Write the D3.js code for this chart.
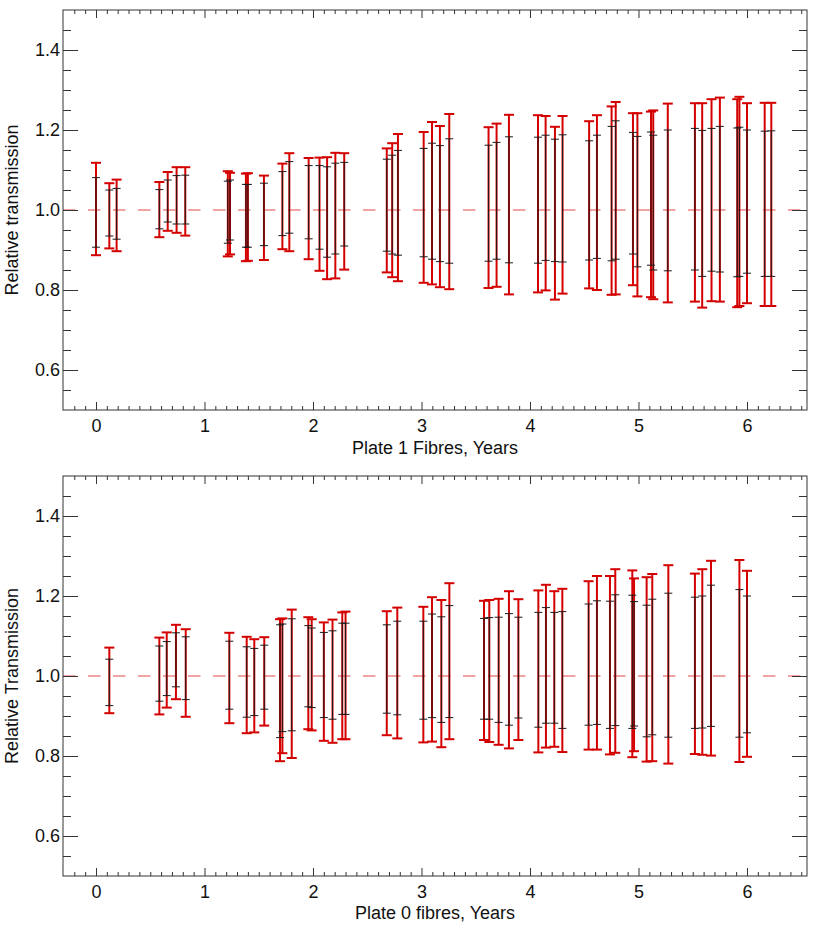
<!DOCTYPE html>
<html>
<head>
<meta charset="utf-8">
<script src="https://cdn.jsdelivr.net/npm/d3@7"></script>
<style>
  html, body { margin: 0; padding: 0; background: #fff; }
  svg { display: block; }
  text { font-family: "Liberation Sans", Arial, Helvetica, sans-serif; fill: #111; }
</style>
</head>
<body>
<svg id="chart" width="817" height="944"></svg>
<script>
// ---------- Data: Plate 1 fibres (top panel) ----------
const p1Years = [0.00, 0.123, 0.19, 0.584, 0.661, 0.743, 0.823, 1.215, 1.235, 1.382, 1.40, 1.548, 1.718, 1.782,
  1.96, 2.06, 2.13, 2.206, 2.288, 2.68, 2.73, 2.783, 3.02, 3.097, 3.17, 3.256, 3.618, 3.692, 3.806,
  4.074, 4.144, 4.23, 4.30, 4.545, 4.617, 4.752, 4.79, 4.949, 4.99, 5.115, 5.136, 5.27, 5.52, 5.587,
  5.673, 5.75, 5.91, 5.93, 6.00, 6.163, 6.224];
const p1Hi = [1.118, 1.067, 1.076, 1.070, 1.095, 1.107, 1.107, 1.097, 1.093, 1.091, 1.092, 1.086, 1.116, 1.142,
  1.130, 1.131, 1.132, 1.143, 1.142, 1.154, 1.167, 1.190, 1.195, 1.220, 1.210, 1.240, 1.207, 1.216, 1.238,
  1.237, 1.235, 1.208, 1.235, 1.222, 1.237, 1.259, 1.270, 1.242, 1.242, 1.246, 1.249, 1.266, 1.267, 1.267,
  1.277, 1.281, 1.277, 1.283, 1.267, 1.268, 1.268];
const p1Lo = [0.887, 0.904, 0.897, 0.932, 0.948, 0.943, 0.936, 0.884, 0.889, 0.872, 0.873, 0.875, 0.902, 0.897,
  0.877, 0.848, 0.827, 0.829, 0.851, 0.844, 0.832, 0.822, 0.818, 0.814, 0.807, 0.802, 0.805, 0.808, 0.789,
  0.794, 0.799, 0.776, 0.791, 0.804, 0.800, 0.788, 0.789, 0.812, 0.784, 0.782, 0.777, 0.769, 0.771, 0.756,
  0.772, 0.771, 0.757, 0.760, 0.767, 0.760, 0.760];
const p1InHi = [1.081, 1.050, 1.054, 1.051, 1.075, 1.086, 1.087, 1.072, 1.075, 1.064, 1.064, 1.067, 1.096, 1.121,
  1.111, 1.111, 1.108, 1.117, 1.119, 1.127, 1.137, 1.149, 1.154, 1.167, 1.161, 1.178, 1.162, 1.169, 1.183,
  1.182, 1.187, 1.177, 1.188, 1.173, 1.187, 1.209, 1.223, 1.194, 1.184, 1.195, 1.187, 1.200, 1.204, 1.199,
  1.204, 1.209, 1.205, 1.207, 1.200, 1.197, 1.198];
const p1InLo = [0.907, 0.935, 0.927, 0.953, 0.970, 0.965, 0.965, 0.917, 0.925, 0.907, 0.907, 0.911, 0.936, 0.942,
  0.928, 0.902, 0.882, 0.890, 0.910, 0.897, 0.890, 0.887, 0.883, 0.877, 0.871, 0.867, 0.872, 0.877, 0.868,
  0.867, 0.874, 0.871, 0.870, 0.875, 0.879, 0.873, 0.877, 0.890, 0.858, 0.862, 0.850, 0.848, 0.850, 0.834,
  0.847, 0.845, 0.833, 0.834, 0.842, 0.834, 0.834];

// ---------- Data: Plate 0 fibres (bottom panel) ----------
const p0Years = [0.123, 0.584, 0.652, 0.737, 0.827, 1.229, 1.389, 1.459, 1.551, 1.696, 1.718, 1.804, 1.957, 1.988,
  2.10, 2.18, 2.27, 2.30, 2.68, 2.777, 3.017, 3.097, 3.183, 3.257, 3.576, 3.625, 3.711, 3.806, 3.893,
  4.077, 4.147, 4.224, 4.298, 4.54, 4.617, 4.737, 4.786, 4.943, 4.959, 5.075, 5.127, 5.275, 5.52, 5.588,
  5.668, 5.93, 6.00];
const p0Hi = [1.071, 1.096, 1.109, 1.128, 1.117, 1.108, 1.098, 1.092, 1.097, 1.142, 1.144, 1.166, 1.147, 1.142,
  1.134, 1.141, 1.159, 1.161, 1.162, 1.171, 1.173, 1.197, 1.190, 1.232, 1.188, 1.190, 1.193, 1.212, 1.192,
  1.214, 1.228, 1.212, 1.218, 1.237, 1.250, 1.250, 1.267, 1.264, 1.244, 1.247, 1.255, 1.277, 1.256, 1.267,
  1.288, 1.290, 1.263];
const p0Lo = [0.907, 0.904, 0.921, 0.942, 0.898, 0.882, 0.857, 0.859, 0.876, 0.787, 0.807, 0.795, 0.867, 0.864,
  0.838, 0.833, 0.842, 0.842, 0.852, 0.844, 0.834, 0.836, 0.822, 0.842, 0.840, 0.835, 0.828, 0.819, 0.840,
  0.809, 0.821, 0.823, 0.810, 0.816, 0.816, 0.804, 0.808, 0.797, 0.812, 0.786, 0.787, 0.781, 0.805, 0.803,
  0.801, 0.785, 0.798];
const p0InHi = [1.042, 1.075, 1.086, 1.108, 1.098, 1.087, 1.073, 1.069, 1.077, 1.128, 1.130, 1.143, 1.126, 1.120,
  1.109, 1.113, 1.132, 1.132, 1.128, 1.137, 1.137, 1.155, 1.148, 1.176, 1.144, 1.146, 1.147, 1.156, 1.147,
  1.159, 1.171, 1.159, 1.161, 1.180, 1.188, 1.187, 1.203, 1.202, 1.186, 1.177, 1.192, 1.207, 1.197, 1.200,
  1.227, 1.216, 1.200];
const p0InLo = [0.926, 0.937, 0.951, 0.973, 0.941, 0.917, 0.897, 0.901, 0.917, 0.846, 0.861, 0.863, 0.923, 0.921,
  0.896, 0.892, 0.904, 0.904, 0.907, 0.903, 0.892, 0.896, 0.884, 0.896, 0.892, 0.892, 0.884, 0.877, 0.895,
  0.872, 0.882, 0.882, 0.869, 0.877, 0.879, 0.869, 0.876, 0.869, 0.875, 0.848, 0.853, 0.847, 0.869, 0.870,
  0.874, 0.847, 0.858];

// ---------- Axis tick definitions ----------
const xMajorTicks = [0, 1, 2, 3, 4, 5, 6];
const yMajorTicks = [0.6, 0.8, 1.0, 1.2, 1.4];
const xDomain = [-0.304, 6.553];
const yDomain = [0.5, 1.5];

const svg = d3.select("#chart");
const X0 = 63, X1 = 807;
const RED = "#d40000", BLACK = "#1a1a1a", AXIS = "#333";

const x = d3.scaleLinear().domain(xDomain).range([X0, X1]);
const xMinor = d3.range(-2, 66).map(d => d / 10).filter(v => v > xDomain[0] && v < xDomain[1] && Math.abs(v - Math.round(v)) > 1e-6);
const yMinor = d3.range(11, 30).map(d => d / 20).filter(v => !yMajorTicks.some(m => Math.abs(m - v) < 1e-6));

function panel(top, bottom, years, hi, lo, inHi, inLo, xTitle, yTitle, xTitleY) {
  const y = d3.scaleLinear().domain(yDomain).range([bottom, top]);
  const g = svg.append("g");

  // reference dashed line at 1.0
  g.append("line")
    .attr("x1", X0).attr("x2", X1)
    .attr("y1", y(1.0)).attr("y2", y(1.0))
    .attr("stroke", "#dd2a2a").attr("stroke-width", 1)
    .attr("stroke-dasharray", "12.5 12.5").attr("opacity", 0.85);

  const idx = d3.range(years.length);
  // red outer error bars
  const red = g.append("g").attr("stroke", RED).attr("stroke-width", 2).attr("fill", "none");
  red.selectAll("line.v").data(idx).join("line").attr("class", "v")
    .attr("x1", i => x(years[i])).attr("x2", i => x(years[i]))
    .attr("y1", i => y(hi[i])).attr("y2", i => y(lo[i]));
  red.selectAll("line.ch").data(idx).join("line").attr("class", "ch")
    .attr("x1", i => x(years[i]) - 5).attr("x2", i => x(years[i]) + 5)
    .attr("y1", i => y(hi[i])).attr("y2", i => y(hi[i]));
  red.selectAll("line.cl").data(idx).join("line").attr("class", "cl")
    .attr("x1", i => x(years[i]) - 5).attr("x2", i => x(years[i]) + 5)
    .attr("y1", i => y(lo[i])).attr("y2", i => y(lo[i]));

  // black inner error bars
  const blk = g.append("g").attr("stroke", BLACK).attr("stroke-width", 1).attr("fill", "none");
  blk.selectAll("line.v").data(idx).join("line").attr("class", "v")
    .attr("x1", i => x(years[i])).attr("x2", i => x(years[i]))
    .attr("y1", i => y(inHi[i])).attr("y2", i => y(inLo[i]));
  blk.selectAll("line.ch").data(idx).join("line").attr("class", "ch")
    .attr("x1", i => x(years[i]) - 4).attr("x2", i => x(years[i]) + 4)
    .attr("y1", i => y(inHi[i])).attr("y2", i => y(inHi[i]));
  blk.selectAll("line.cl").data(idx).join("line").attr("class", "cl")
    .attr("x1", i => x(years[i]) - 4).attr("x2", i => x(years[i]) + 4)
    .attr("y1", i => y(inLo[i])).attr("y2", i => y(inLo[i]));

  // axes ticks
  function ticks(axis, transform) {
    const a = g.append("g").attr("transform", transform).call(axis);
    a.select(".domain").remove();
    a.selectAll("text").remove();
    a.selectAll("line").attr("stroke", AXIS);
  }
  ticks(d3.axisBottom(x).tickValues(xMajorTicks).tickSize(-8), `translate(0,${bottom})`);
  ticks(d3.axisBottom(x).tickValues(xMinor).tickSize(-4), `translate(0,${bottom})`);
  ticks(d3.axisTop(x).tickValues(xMajorTicks).tickSize(-8), `translate(0,${top})`);
  ticks(d3.axisTop(x).tickValues(xMinor).tickSize(-4), `translate(0,${top})`);
  ticks(d3.axisLeft(y).tickValues(yMajorTicks).tickSize(-15), `translate(${X0},0)`);
  ticks(d3.axisLeft(y).tickValues(yMinor).tickSize(-8), `translate(${X0},0)`);
  ticks(d3.axisRight(y).tickValues(yMajorTicks).tickSize(-15), `translate(${X1},0)`);
  ticks(d3.axisRight(y).tickValues(yMinor).tickSize(-8), `translate(${X1},0)`);

  // labels
  const xl = g.append("g").attr("transform", `translate(0,${bottom})`)
    .call(d3.axisBottom(x).tickValues(xMajorTicks).tickSize(0).tickPadding(9.5).tickFormat(d3.format("d")));
  xl.select(".domain").remove();
  xl.selectAll("text").style("font-size", "18px").attr("fill", "#111")
    .style("font-family", '"Liberation Sans", Arial, sans-serif');

  const yl = g.append("g").attr("transform", `translate(${X0},0)`)
    .call(d3.axisLeft(y).tickValues(yMajorTicks).tickSize(0).tickPadding(3).tickFormat(d3.format(".1f")));
  yl.select(".domain").remove();
  yl.selectAll("text").style("font-size", "18px").attr("fill", "#111")
    .style("font-family", '"Liberation Sans", Arial, sans-serif');

  // frame
  g.append("rect").attr("x", X0).attr("y", top).attr("width", X1 - X0).attr("height", bottom - top)
    .attr("fill", "none").attr("stroke", AXIS).attr("stroke-width", 1);

  g.append("text").attr("x", (X0 + X1) / 2).attr("y", xTitleY)
    .attr("text-anchor", "middle").style("font-size", "18px").text(xTitle);
  g.append("text").attr("transform", `translate(18,${(top + bottom) / 2}) rotate(-90)`)
    .attr("text-anchor", "middle").style("font-size", "18px").text(yTitle);
}

panel(10, 410, p1Years, p1Hi, p1Lo, p1InHi, p1InLo, "Plate 1 Fibres, Years", "Relative transmission", 454);
panel(476, 876, p0Years, p0Hi, p0Lo, p0InHi, p0InLo, "Plate 0 fibres, Years", "Relative Transmission", 919);
</script>
</body>
</html>
